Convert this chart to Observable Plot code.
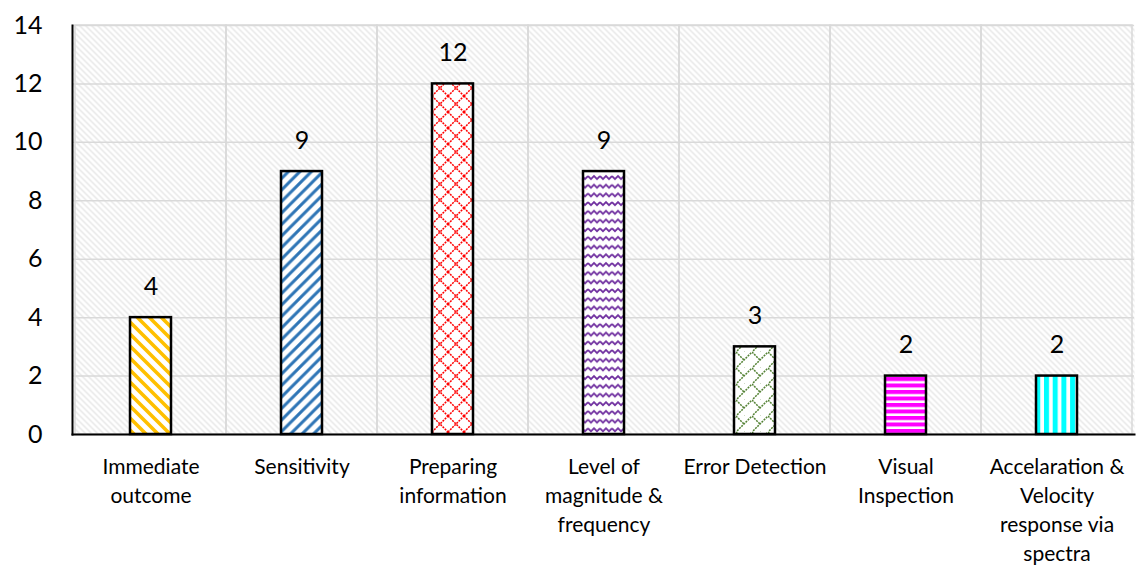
<!DOCTYPE html>
<html>
<head>
<meta charset="utf-8">
<script src="https://cdn.jsdelivr.net/npm/d3@7"></script>
<script src="https://cdn.jsdelivr.net/npm/@observablehq/plot@0.6"></script>
<style>
  html, body { margin: 0; padding: 0; background: white; }
  #chart svg { display: block; }
</style>
</head>
<body>
<div id="chart"></div>
<script>
// ---- Data ----
const categories = [
  "Immediate outcome",
  "Sensitivity",
  "Preparing information",
  "Level of magnitude & frequency",
  "Error Detection",
  "Visual Inspection",
  "Accelaration & Velocity response via spectra"
];
const values = [4, 9, 12, 9, 3, 2, 2];
const tickLabels = [
  "Immediate\noutcome",
  "Sensitivity",
  "Preparing\ninformation",
  "Level of\nmagnitude &\nfrequency",
  "Error Detection",
  "Visual\nInspection",
  "Accelaration &\nVelocity\nresponse via\nspectra"
];
const yTicks = [0, 2, 4, 6, 8, 10, 12, 14];
const patternIds = ["pYellow", "pBlue", "pRed", "pPurple", "pGreen", "pMagenta", "pCyan"];

const data = categories.map((c, i) => ({
  category: c, value: values[i], label: tickLabels[i], pattern: patternIds[i]
}));

const font = "Lato, 'Open Sans', sans-serif";

const chart = Plot.plot({
  width: 1142,
  height: 565,
  marginLeft: 72,
  marginRight: 8,
  marginTop: 25,
  marginBottom: 131,
  style: { fontFamily: font, background: "white", overflow: "visible" },
  x: { domain: categories, padding: 0, axis: null },
  y: { domain: [0, 14], axis: null },
  color: { type: "identity" },
  marks: [
    Plot.frame({ fill: "url(#bgHatch)", stroke: "none" }),
    Plot.ruleY(yTicks, { stroke: "#d9d9d9", strokeWidth: 1.5 }),
    Plot.barY(data, { x: "category", y: 14, fill: "none", stroke: "#d9d9d9", strokeWidth: 1.5 }),
    Plot.barY(data, {
      x: "category", y: "value",
      fill: d => `url(#${d.pattern})`,
      stroke: "black", strokeWidth: 2.5,
      insetLeft: 55, insetRight: 55
    }),
    Plot.text(data, {
      x: "category", y: "value", text: d => String(d.value),
      lineAnchor: "bottom", dy: -23, fontSize: 25, fill: "black"
    }),
    Plot.text(data, {
      x: "category", y: 0, text: "label",
      lineAnchor: "top", dy: 19, lineHeight: 1.38, fontSize: 21, fill: "black"
    }),
    Plot.axisY({ ticks: yTicks, tickSize: 0, tickPadding: 30, fontSize: 25, color: "black", label: null }),
    Plot.frame({ anchor: "left", stroke: "black", strokeWidth: 2 }),
    Plot.frame({ anchor: "bottom", stroke: "black", strokeWidth: 2 })
  ]
});

// Pattern definitions
const svg = d3.select(chart);
const defs = svg.insert("defs", ":first-child");

function pat(id, w, h) {
  return defs.append("pattern").attr("id", id)
    .attr("patternUnits", "userSpaceOnUse")
    .attr("width", w).attr("height", h);
}
// background light hatch "\"
{
  const p = pat("bgHatch", 6, 6);
  p.append("rect").attr("width", 6).attr("height", 6).attr("fill", "white");
  p.append("path").attr("d", "M-1,-1 L7,7 M-4,2 L4,10 M2,-4 L10,4")
    .attr("stroke", "#e4e4e4").attr("stroke-width", 1.3);
}
// yellow "\" wide stripes
{
  const s = 12;
  const p = pat("pYellow", s, s);
  p.append("rect").attr("width", s).attr("height", s).attr("fill", "white");
  p.append("path").attr("d", `M-2,-2 L${s+2},${s+2} M${-s/2-2},${s/2-2} L${s/2+2},${1.5*s+2} M${s/2-2},${-s/2-2} L${1.5*s+2},${s/2+2}`)
    .attr("stroke", "#FFC000").attr("stroke-width", 3.6);
}
// blue "/" stripes
{
  const s = 11.5;
  const p = pat("pBlue", s, s);
  p.append("rect").attr("width", s).attr("height", s).attr("fill", "white");
  p.append("path").attr("d", `M-2,${s+2} L${s+2},-2 M${-s/2-2},${s/2+2} L${s/2+2},${-s/2-2} M${s/2-2},${1.5*s+2} L${1.5*s+2},${s/2-2}`)
    .attr("stroke", "#2E75B6").attr("stroke-width", 3);
}
// red diamond lattice
{
  const s = 16;
  const p = pat("pRed", s, s);
  p.append("rect").attr("width", s).attr("height", s).attr("fill", "white");
  p.append("path").attr("d", `M0,0 L${s},${s} M0,${s} L${s},0`)
    .attr("stroke", "#FF0000").attr("stroke-width", 1.5).attr("stroke-dasharray", "2,1");
}
// purple waves
{
  const w = 12, h = 8.7;
  const p = pat("pPurple", w, h);
  p.append("rect").attr("width", w).attr("height", h).attr("fill", "white");
  p.append("path").attr("d", `M0,2 L3,5 L6,2 L9,5 L12,2`)
    .attr("fill", "none").attr("stroke", "#7030A0").attr("stroke-width", 1.8);
}
// green shingle / trellis
{
  const s = 16;
  const p = pat("pGreen", s, s);
  p.append("rect").attr("width", s).attr("height", s).attr("fill", "white");
  p.append("path").attr("d", `M-1,${s+1} L${s+1},-1 M0,0 L${s/2},${s/2} M${s/2},${s} L${s},${s*1.5}`)
    .attr("stroke", "#548235").attr("stroke-width", 1.5).attr("stroke-dasharray", "2,1");
}
// magenta horizontal stripes
{
  const h = 6.5;
  const p = pat("pMagenta", 10, h);
  p.append("rect").attr("width", 10).attr("height", h).attr("fill", "white");
  p.append("rect").attr("width", 10).attr("height", 4).attr("fill", "#FF00FF");
}
// cyan vertical stripes
{
  const w = 8.7;
  const p = pat("pCyan", w, 10);
  p.append("rect").attr("width", w).attr("height", 10).attr("fill", "white");
  p.append("rect").attr("width", 5).attr("height", 10).attr("fill", "#00FFFF");
}

document.getElementById("chart").appendChild(chart);
</script>
</body>
</html>
